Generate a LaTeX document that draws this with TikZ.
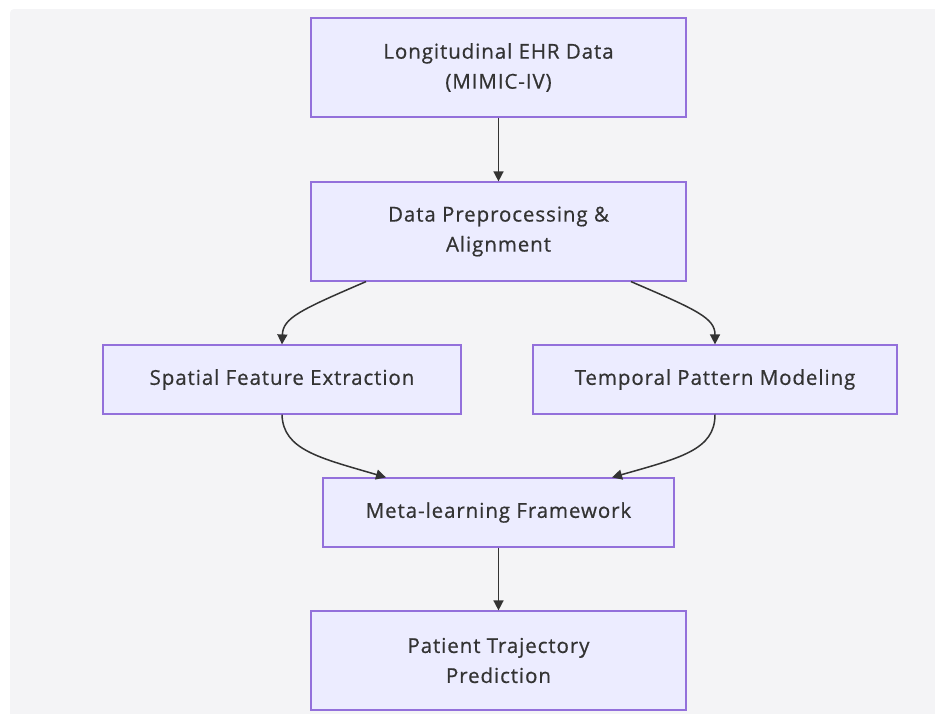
\documentclass[tikz,border=0pt]{standalone}
\usepackage{fontspec}
\setmainfont{Open Sans}[LetterSpace=4.5, FakeBold=0.6]
\usetikzlibrary{arrows.meta}
\definecolor{boxfill}{HTML}{ECECFF}
\definecolor{boxline}{HTML}{9370DB}
\definecolor{ink}{HTML}{333333}
\definecolor{canvas}{HTML}{F4F4F6}
\tikzset{
  stage/.style={draw=boxline, fill=boxfill, line width=1.2pt, text=ink,
    align=center, inner sep=0pt, font=\fontsize{20.5}{30}\selectfont},
  link/.style={draw=ink, line width=1.5pt, -{Triangle[length=10pt,width=10pt]}}
}
\begin{document}
\begin{tikzpicture}[x=1pt,y=-1pt]
            \useasboundingbox (0,0) rectangle (935,713);
            \fill[canvas, rounded corners=4pt] (10,9) rectangle (945,723);

            \node[stage, minimum width=375pt, minimum height=99pt] (ehr) at (498.5,67.5) {Longitudinal EHR Data\\(MIMIC-IV)};
            \node[stage, minimum width=375pt, minimum height=99pt] (prep) at (498.5,231.5) {Data Preprocessing \&\\Alignment};
            \node[stage, minimum width=358pt, minimum height=69pt] (spatial) at (282,379.5) {Spatial Feature Extraction};
            \node[stage, minimum width=364pt, minimum height=69pt] (temporal) at (715,379.5) {Temporal Pattern Modeling};
            \node[stage, minimum width=351pt, minimum height=69pt] (meta) at (498.5,512.5) {Meta-learning Framework};
            \node[stage, minimum width=375pt, minimum height=99pt] (pred) at (498.5,660.5) {Patient Trajectory\\Prediction};

            \draw[link] (ehr) -- (prep);
            \draw[link] (prep.south -| 366,0) .. controls (300,310) and (283,318) .. (spatial.north);
            \draw[link] (prep.south -| 631,0) .. controls (697,310) and (715,318) .. (temporal.north);
            \draw[link] (spatial.south) .. controls (283,450) and (320,458) .. (meta.north -| 386,0);
            \draw[link] (temporal.south) .. controls (715,450) and (680,458) .. (meta.north -| 612,0);
            \draw[link] (meta) -- (pred);
        \end{tikzpicture}
\end{document}
